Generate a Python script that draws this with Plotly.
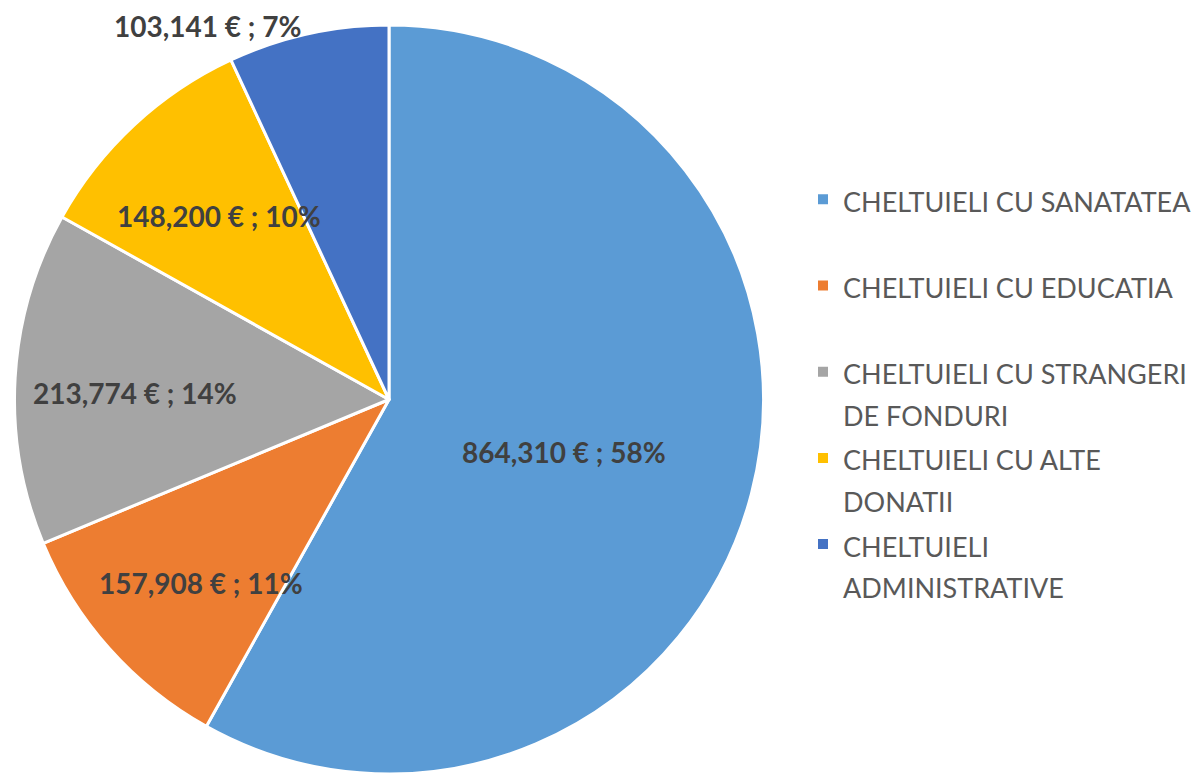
import math
import plotly.graph_objects as go

categories = ["CHELTUIELI CU SANATATEA", "CHELTUIELI CU EDUCATIA",
              "CHELTUIELI CU STRANGERI<br>DE FONDURI", "CHELTUIELI CU ALTE<br>DONATII",
              "CHELTUIELI<br>ADMINISTRATIVE"]
values = [864310, 157908, 213774, 148200, 103141]
colors = ["#5B9BD5", "#ED7D31", "#A5A5A5", "#FFC000", "#4472C4"]

W, H = 1202, 775
FONT = "Lato"
LABEL_SIZE = 28
LABEL_COLOR = "#404040"
LEGEND_TEXT_SIZE = 27

# legend labels: each entry two lines tall so spacing is uniform
def legend_label(c):
    lines = c.split("<br>")
    if len(lines) < 2:
        lines.append(" ")
    return "<br>".join(f'<span style="font-size:{LEGEND_TEXT_SIZE}px">{l}</span>' for l in lines)

legend_labels = [legend_label(c) for c in categories]

total = sum(values)
texts = [f"<b>{v:,.0f} € ; {round(100*v/total):.0f}%</b>" for v in values]

# pie domain (pixels)
x0, x1 = 4, 758
y0, y1 = 17, 766

fig = go.Figure(go.Pie(
    labels=legend_labels,
    values=values,
    textinfo="none",
    hoverinfo="value+percent",
    sort=False,
    direction="clockwise",
    rotation=0,
    marker=dict(colors=colors, line=dict(color="white", width=3)),
    domain=dict(x=[x0 / W, x1 / W], y=[1 - y1 / H, 1 - y0 / H]),
    showlegend=True,
))

# data labels placed along each slice's mid-angle ("best fit" style)
r = min(x1 - x0, y1 - y0) / 2
cx, cy = (x0 + x1) / 2 + 8, (y0 + y1) / 2 + 9
cum = 0
for i, v in enumerate(values):
    frac = v / total
    ang = 2 * math.pi * (cum + v / 2) / total
    cum += v
    if frac >= 0.5:
        k, xa, xs = 0.46, "center", 0
    elif frac < 0.08:
        k, xa, xs = 1.045, "right", -10
    else:
        k, xa, xs = 0.70, "center", 0
    lx = cx + math.sin(ang) * r * k
    ly = cy - math.cos(ang) * r * k
    fig.add_annotation(x=lx / W, y=1 - ly / H, xref="paper", yref="paper",
                       text=texts[i], showarrow=False, xanchor=xa, yanchor="middle",
                       xshift=xs, borderpad=0,
                       font=dict(family=FONT, size=LABEL_SIZE, color=LABEL_COLOR))

fig.update_layout(
    width=W, height=H,
    margin=dict(l=0, r=0, t=0, b=0),
    paper_bgcolor="white",
    plot_bgcolor="white",
    legend=dict(x=795 / W, y=1 - 164 / H, xanchor="left", yanchor="top",
                font=dict(family=FONT, size=32, color="#595959"),
                valign="top", itemsizing="constant", tracegroupgap=0),
)

fig.write_html("out.html")
